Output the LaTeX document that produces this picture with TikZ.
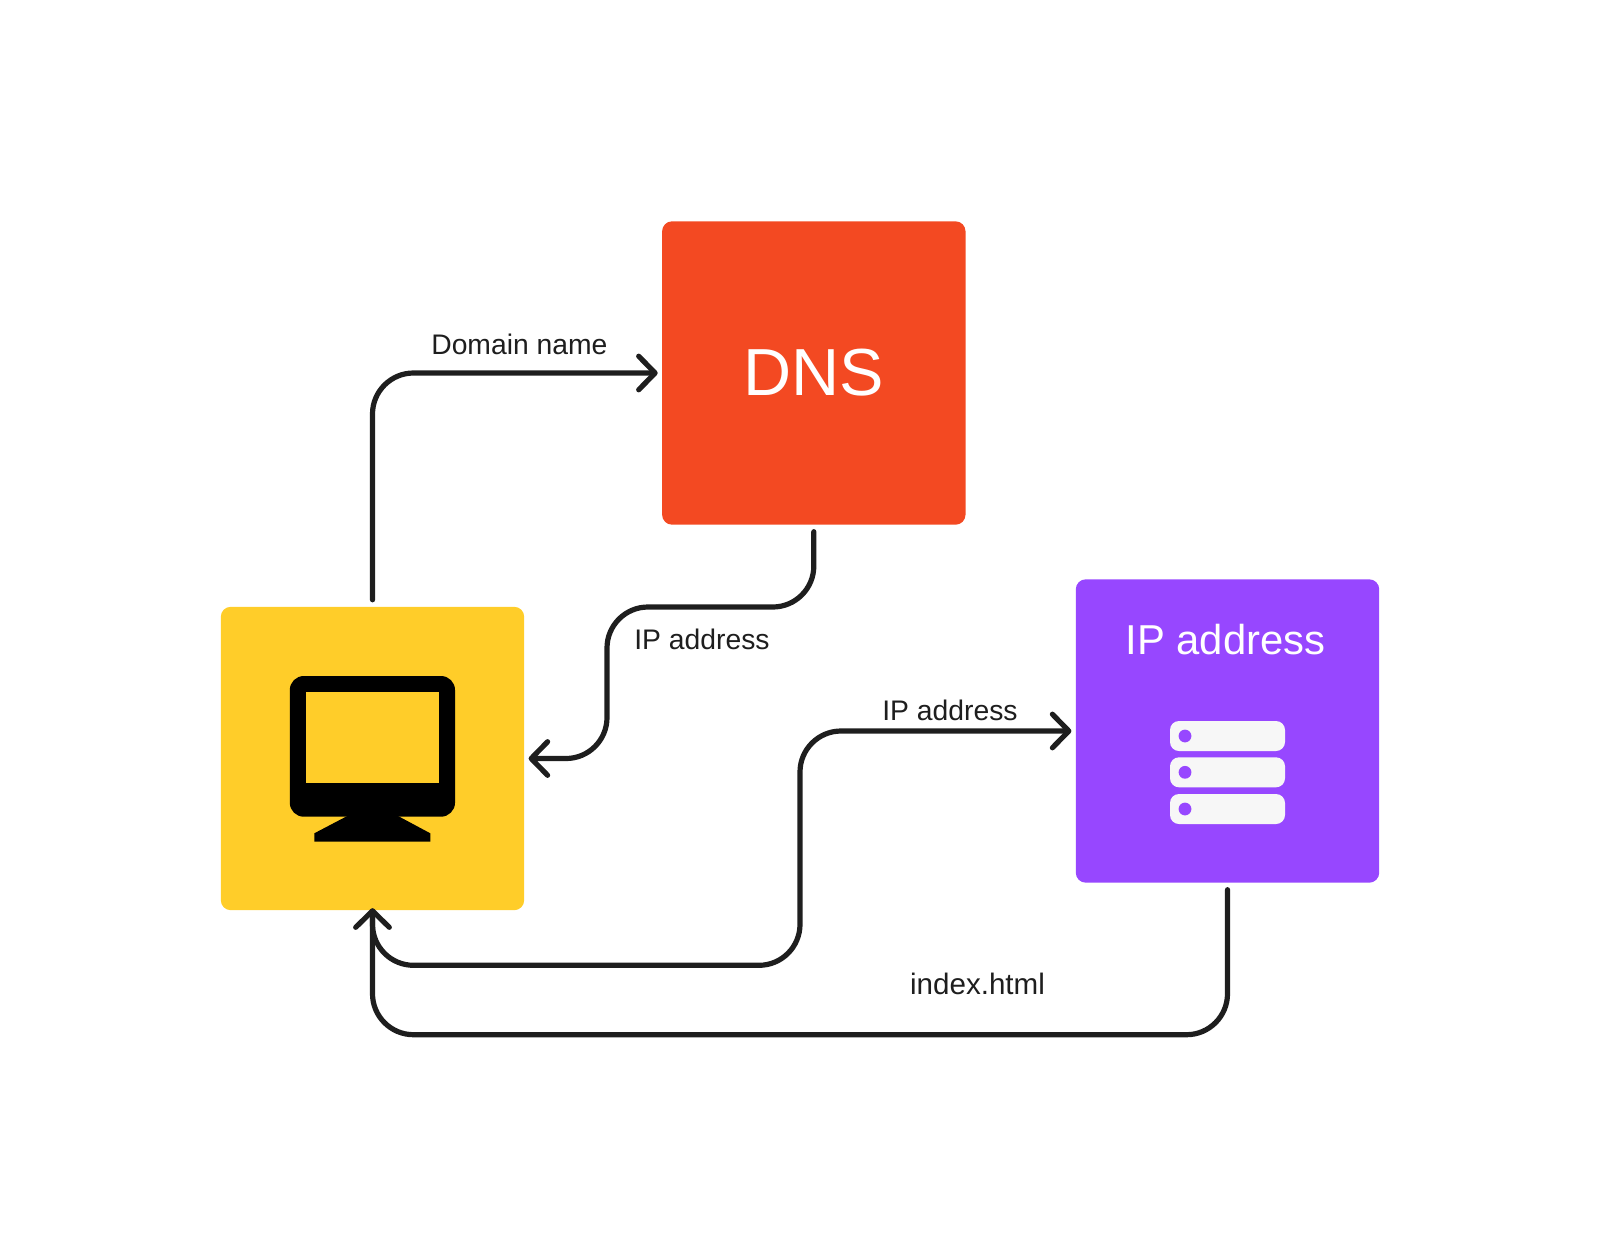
\documentclass[tikz,border=0pt]{standalone}
\usepackage{xcolor}
\usepackage{fontspec}
\setmainfont{Liberation Sans}
\usetikzlibrary{arrows.meta, positioning, calc}
\definecolor{dnsred}{HTML}{F34922}
\definecolor{pcyellow}{HTML}{FFCD29}
\definecolor{webpurple}{HTML}{9747FF}
\definecolor{inkdark}{HTML}{1E1E1E}
\definecolor{slotgrey}{HTML}{F7F7F7}

\begin{document}
\begin{tikzpicture}[
    x=0.5pt, y=-0.5pt,
    box/.style={rounded corners=5pt, minimum size=151.7pt, inner sep=0pt, outer sep=2.2pt, font=\fontsize{33.3}{36}\selectfont, text=white},
    link/.style={draw=inkdark, line width=2.6pt, rounded corners=20.5pt, line cap=round, shorten <=1.3pt, -{Straight Barb[length=8.2pt, width=16.8pt, round]}},
    tag/.style={font=\fontsize{14.15}{16}\selectfont, text=inkdark, inner sep=0pt},
    slot/.style={fill=slotgrey, rounded corners=4.5pt, minimum width=57.5pt, minimum height=15pt, inner sep=0pt},
    slotdot/.style={circle, fill=webpurple, minimum size=6.4pt, inner sep=0pt}
]
    \useasboundingbox (0,0) rectangle (1600,1258);

    % Three machines
    \node[box, fill=pcyellow] at (372.5,758.5) (pc) {};
    \node[box, fill=dnsred] at (813.8,373) (dns) {DNS};
    \node[box, fill=webpurple] at (1227.5,731) (web) {};
    \node[font=\fontsize{20.9}{24}\selectfont, text=white, inner sep=0pt] at (1225.5,640) (webtitle) {IP address};

    % Monitor
    \fill[black, rounded corners=7pt] (289.8,676) rectangle (455,816.7);
    \fill[black] (347.3,816) -- (314.3,833.3) -- (314.3,841.7) -- (430.3,841.7) -- (430.3,833.3) -- (398,816) -- cycle;
    \fill[pcyellow] (306,692.3) rectangle (438.7,783.3);

    % Server rack
    \node[slot] at (1227.5,736) (slota) {};
    \node[slot] at (1227.5,772.3) (slotb) {};
    \node[slot] at (1227.5,809) (slotc) {};
    \node[slotdot] at (1185,736) (dota) {};
    \node[slotdot] at (1185,772.3) (dotb) {};
    \node[slotdot] at (1185,809) (dotc) {};

    % Bend points
    \coordinate (pcin) at (372.5,908.3);
    \coordinate (bendreply) at (607,607);
    \coordinate (bendask) at (800,965.3);
    \coordinate (bendpage) at (372.5,1034.7);

    % Requests and answers
    \draw[link] (pc.north) |- (dns.west);
    \draw[link] (dns.south) |- (bendreply) |- (pc.east);
    \draw[link] (pcin) |- (bendask) |- (web.west);
    \draw[link] (web.south) |- (bendpage) -- (pcin);

    \node[tag] at (519.4,344) (domaintag) {Domain name};
    \node[tag] at (702,639) (replytag) {IP address};
    \node[tag] at (950,710) (asktag) {IP address};
    \node[tag, font=\fontsize{14.8}{16}\selectfont] at (977.5,984) (pagetag) {index.html};
\end{tikzpicture}
\end{document}
